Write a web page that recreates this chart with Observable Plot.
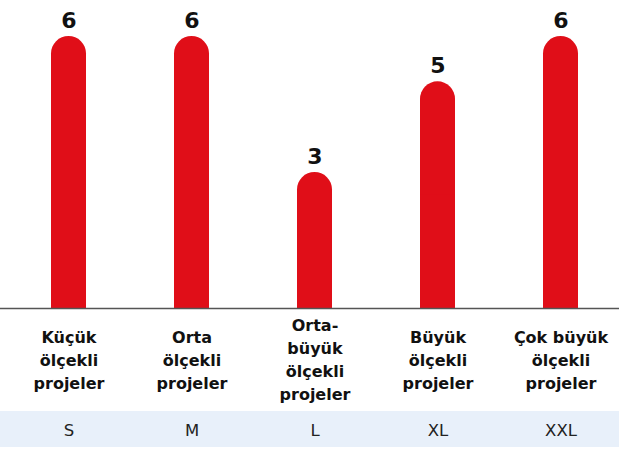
<!DOCTYPE html>
<html>
<head>
<meta charset="utf-8">
<script src="https://cdn.jsdelivr.net/npm/d3@7"></script>
<script src="https://cdn.jsdelivr.net/npm/@observablehq/plot@0.6"></script>
<style>
  html, body { margin: 0; padding: 0; background: #fff; }
  #wrap { position: relative; width: 619px; height: 449px; }
  #band { position: absolute; left: 0; top: 411px; width: 619px; height: 36px; background: #e8f0fa; }
  #chart { position: absolute; left: 0; top: 0; }
</style>
</head>
<body>
<div id="wrap"><div id="band"></div><div id="chart"></div></div>
<script>
const categories = [
  "Küçük\nölçekli\nprojeler",
  "Orta\nölçekli\nprojeler",
  "Orta-\nbüyük\nölçekli\nprojeler",
  "Büyük\nölçekli\nprojeler",
  "Çok büyük\nölçekli\nprojeler"
];
const sizes = ["S", "M", "L", "XL", "XXL"];
const values = [6, 6, 3, 5, 6];

const data = categories.map((c, i) => ({category: c, size: sizes[i], value: values[i]}));
const font = "'DejaVu Sans', sans-serif";

const chart = Plot.plot({
  width: 619,
  height: 449,
  marginTop: 36,
  marginBottom: 141,
  marginLeft: 0,
  marginRight: 0,
  style: {background: "transparent", fontFamily: font},
  x: {type: "band", domain: categories, range: [5.875, 622.125], paddingInner: 0.716, paddingOuter: 0.358, axis: null},
  y: {domain: [0, 6], axis: null},
  marks: [
    Plot.barY(data, {x: "category", y: "value", fill: "#e00e18", rx: 17.5}),
    Plot.barY(data, {x: "category", y: d => d.value / 2, fill: "#e00e18"}),
    Plot.ruleY([0], {stroke: "#555", strokeWidth: 1.5}),
    Plot.text(data, {x: "category", y: "value", text: d => String(d.value), dy: -16, fontSize: 22, fontWeight: 700, fill: "#111"}),
    Plot.text(data, {x: "category", y: () => 0, text: "category", dy: 50, lineAnchor: "middle", lineHeight: 1.44, fontSize: 16, fontWeight: 700, fill: "#111"}),
    Plot.text(data, {x: "category", y: () => 0, text: "size", dy: 122, lineAnchor: "middle", fontSize: 16.5, fontWeight: 400, fill: "#222"})
  ]
});
document.getElementById("chart").appendChild(chart);
</script>
</body>
</html>
